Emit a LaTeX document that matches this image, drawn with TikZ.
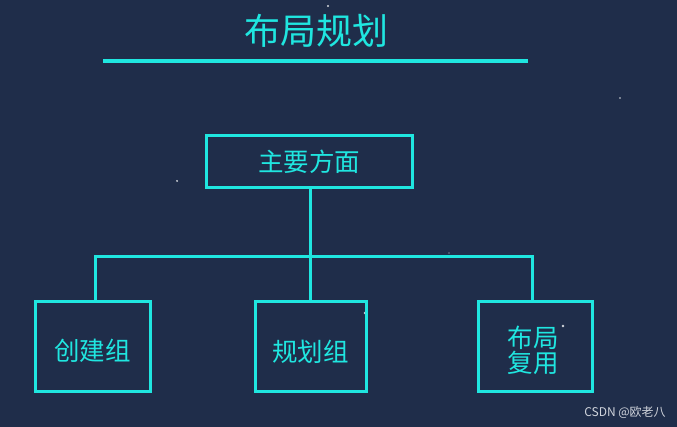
\documentclass[tikz,border=0pt]{standalone}
\usepackage{fontspec}
\setmainfont{Noto Sans CJK SC}
\newfontfamily\cjk{Noto Sans CJK SC}
\definecolor{bgnavy}{HTML}{1F2D4A}
\definecolor{cyanline}{HTML}{1FE6E0}
\definecolor{wmgray}{HTML}{D0D4DC}
\begin{document}
\begin{tikzpicture}[x=1pt,y=-1pt,
  boxstyle/.style={draw=cyanline,line width=3pt,inner sep=0pt,text=cyanline,font=\cjk\fontsize{25.5}{30}\selectfont,align=center},
  boxtext/.style={text=cyanline,font=\cjk\fontsize{25.5}{25}\selectfont,align=center,inner sep=0pt},
  linkstyle/.style={draw=cyanline,line width=3pt},
  stardot/.style={fill=white,opacity=0.8}]
\fill[bgnavy] (0,0) rectangle (677,427);
\useasboundingbox (0,0) rectangle (677,427);
% stars
\fill[stardot] (328,6) circle (1.2);
\fill[stardot] (177,181) circle (1);
\fill[stardot] (365,313) circle (1.3);
\fill[stardot] (563,326) circle (1.3);
\fill[stardot] (620,98) circle (0.8);
\fill[stardot] (449,253) circle (0.7);
% title
\node (title) at (316,31) {\textcolor{cyanline}{\cjk\fontsize{36}{40}\selectfont 布局规划}};
\coordinate (ul) at (103,61);
\coordinate (ur) at (528,61);
\draw[cyanline,line width=4pt] (ul) -- (ur);
% boxes
\node[boxstyle,minimum width=206pt,minimum height=52pt] (main) at (309,162) {主要方面};
\node[boxstyle,minimum width=115pt,minimum height=89pt] (b1) at (92.5,346.5) {};
\node[boxstyle,minimum width=111pt,minimum height=89pt] (b2) at (310.5,346.5) {};
\node[boxstyle,minimum width=114pt,minimum height=89pt] (b3) at (535,346.5) {};
\node[boxtext] (t1) at ([yshift=-4pt]b1.center) {创建组};
\node[boxtext] (t2) at ([yshift=-5pt]b2.center) {规划组};
\node[boxtext] (t3) at ([xshift=-2pt,yshift=-4pt]b3.center) {布局\\复用};
% connectors
\coordinate (jm) at (310,257);
\coordinate (jl) at (95,257);
\coordinate (jr) at (532,257);
\draw[linkstyle] (main.south -| jm) -- (jm);
\draw[linkstyle] (b1.north -| jl) -- (jl) -- (jr) -- (b3.north -| jr);
\draw[linkstyle] (jm) -- (b2.north -| jm);
% watermark
\node[text=wmgray,font=\cjk\fontsize{12}{14}\selectfont] (wm) at (625,412) {CSDN @欧老八};
\end{tikzpicture}
\end{document}
